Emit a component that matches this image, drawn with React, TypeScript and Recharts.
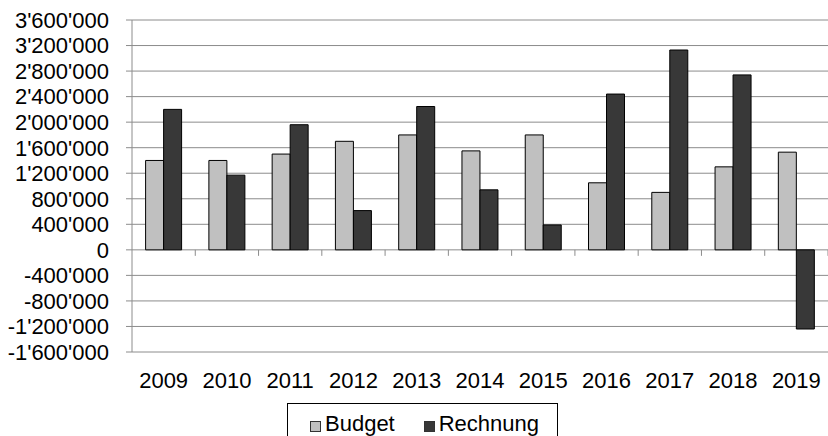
import { Bar, BarChart, CartesianGrid, Legend, XAxis, YAxis } from "recharts";

const years = ["2009", "2010", "2011", "2012", "2013", "2014", "2015", "2016", "2017", "2018", "2019"];
const budget = [1400000, 1400000, 1500000, 1700000, 1800000, 1550000, 1800000, 1050000, 900000, 1300000, 1530000];
const rechnung = [2200000, 1170000, 1960000, 615000, 2245000, 940000, 390000, 2440000, 3130000, 2740000, -1240000];
const yTicks = [-1600000, -1200000, -800000, -400000, 0, 400000, 800000, 1200000, 1600000, 2000000, 2400000, 2800000, 3200000, 3600000];

const data = years.map((year, i) => ({ year, budget: budget[i], rechnung: rechnung[i] }));

const W = 828;
const H = 436;
const margin = { top: 20, right: 0, bottom: 44, left: 0 };
const yAxisWidth = 132;
const xAxisHeight = 40;
const plotW = W - margin.left - margin.right - yAxisWidth;
const plotH = H - margin.top - margin.bottom - xAxisHeight;
const yMin = yTicks[0];
const yMax = yTicks[yTicks.length - 1];
const band = plotW / years.length;
const zeroY = margin.top + (plotH * yMax) / (yMax - yMin);

const grid = "#8c8c8c";
const font = "'Liberation Sans', Arial, sans-serif";

function fmt(v: number) {
  const s = Math.abs(v).toString().replace(/\B(?=(\d{3})+(?!\d))/g, "'");
  return (v < 0 ? "-" : "") + s;
}

function XTick(props: any) {
  const { x, y, payload } = props;
  const tx = x + band / 2;
  return (
    <g>
      <text x={x} y={y + 36} textAnchor="middle" fontSize={22} fill="#000">
        {payload.value}
      </text>
      <line x1={tx} x2={tx} y1={zeroY} y2={zeroY + 6} stroke={grid} />
    </g>
  );
}

function LegendBox(props: any) {
  const items = props.payload || [];
  return (
    <div
      style={{
        boxSizing: "border-box",
        width: 271,
        height: 45,
        border: "1px solid #000",
        paddingTop: 9,
        paddingLeft: 22,
        display: "flex",
        alignItems: "flex-start",
        fontFamily: font,
        fontSize: 22,
        lineHeight: "22px",
        color: "#000",
        background: "#fff",
      }}
    >
      {items.map((it: any, i: number) => (
        <div key={i} style={{ display: "flex", alignItems: "flex-end", marginRight: 29 }}>
          <span
            style={{
              display: "inline-block",
              width: 11,
              height: 11,
              background: it.color,
              border: "1px solid #333",
              marginRight: 4,
              marginBottom: 3,
              boxSizing: "border-box",
            }}
          />
          <span>{it.value}</span>
        </div>
      ))}
    </div>
  );
}

export default function App() {
  return (
    <div style={{ position: "absolute", left: 0, top: 0, width: W, height: H, overflow: "hidden", background: "#fff" }}>
      <BarChart
        width={W}
        height={H}
        data={data}
        margin={margin}
        barCategoryGap="21.5%"
        barGap={0}
        style={{ fontFamily: font }}
      >
        <CartesianGrid vertical={false} stroke={grid} />
        <XAxis
          dataKey="year"
          height={xAxisHeight}
          axisLine={false}
          tickLine={false}
          tickSize={0}
          tickMargin={0}
          interval={0}
          tick={<XTick />}
        />
        <YAxis
          width={yAxisWidth}
          domain={[yMin, yMax]}
          ticks={yTicks}
          interval={0}
          tickFormatter={fmt}
          axisLine={{ stroke: grid }}
          tickLine={{ stroke: grid }}
          tickSize={6}
          tickMargin={17}
          tick={{ fontSize: 22, fill: "#000" }}
        />
        <Legend
          layout="horizontal"
          verticalAlign="middle"
          align="center"
          wrapperStyle={{ left: 287, top: 403, width: 271, height: 45 }}
          content={<LegendBox />}
        />
        <Bar dataKey="budget" name="Budget" fill="#c0c0c0" stroke="#000" strokeWidth={1} isAnimationActive={false} />
        <Bar dataKey="rechnung" name="Rechnung" fill="#383838" stroke="#000" strokeWidth={1} isAnimationActive={false} />
      </BarChart>
    </div>
  );
}
